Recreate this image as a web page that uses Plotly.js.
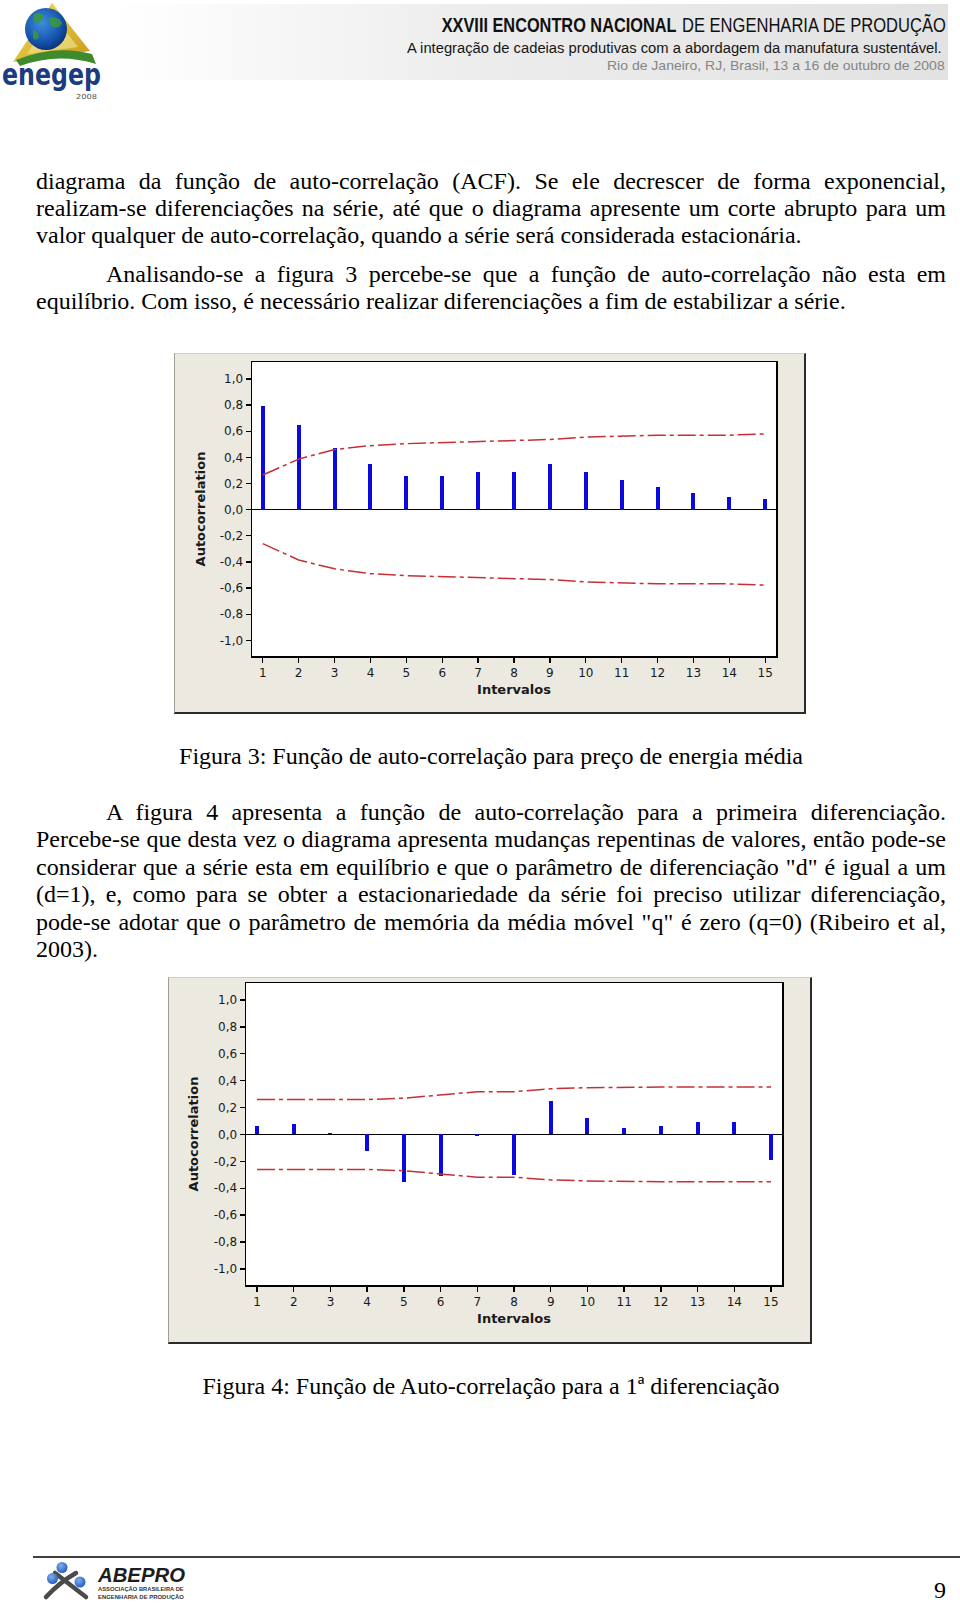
<!DOCTYPE html>
<html>
<head>
<meta charset="utf-8">
<script src="https://cdn.plot.ly/plotly-3.0.1.min.js"></script>
<style>
html,body{margin:0;padding:0;background:#fff;}
#page{position:relative;width:960px;height:1603px;overflow:hidden;background:#fff;}
.txt{position:absolute;left:36px;width:910px;font-family:"Liberation Serif","Times New Roman",serif;font-size:24px;line-height:27.4px;color:#000;}
.j{text-align:justify;text-align-last:justify;word-spacing:-2px;}
.l{text-align:left;}
.ind{text-indent:70px;}
.c{text-align:center;}
.chart{position:absolute;}
.frame{position:absolute;box-sizing:border-box;border-left:1px solid #a09d94;border-top:1px solid #cfccc3;border-right:2px solid #2b2b2b;border-bottom:2px solid #2b2b2b;pointer-events:none;}
svg text{white-space:pre;}
</style>
</head>
<body>
<div id="page">

<!-- header -->
<svg style="position:absolute;left:0;top:0" width="960" height="100" viewBox="0 0 960 100">
  <defs>
    <linearGradient id="hdr" x1="0" x2="1" y1="0" y2="0">
      <stop offset="0" stop-color="#ffffff"/>
      <stop offset="0.45" stop-color="#ececec"/>
      <stop offset="1" stop-color="#e2e2e2"/>
    </linearGradient>
    <radialGradient id="globe" cx="0.4" cy="0.35" r="0.7">
      <stop offset="0" stop-color="#3d8ee0"/>
      <stop offset="0.7" stop-color="#1450a8"/>
      <stop offset="1" stop-color="#0a2d6e"/>
    </radialGradient>
    <linearGradient id="tri" x1="0" x2="1" y1="0" y2="1">
      <stop offset="0" stop-color="#f4e060"/>
      <stop offset="1" stop-color="#c89a18"/>
    </linearGradient>
  </defs>
  <rect x="112" y="4" width="836" height="76" fill="url(#hdr)"/>
  <polygon points="52,3 13,62 90,51" fill="url(#tri)"/>
  <polygon points="52,14 27,54 78,47" fill="#f3e79a" opacity="0.6"/>
  <path d="M16,60 Q55,44 92,54 L96,64 Q58,52 20,66 Z" fill="#3f8a2c"/>
  <circle cx="46" cy="29" r="21" fill="url(#globe)"/>
  <path d="M34,14 q6,-3 10,2 q-2,6 -8,7 q-4,-3 -2,-9z M50,18 q8,-2 12,5 q-3,6 -9,4 q-5,-3 -3,-9z M33,30 q5,1 6,7 q-3,5 -6,1z" fill="#3b9a3a" opacity="0.85"/>
  <text class="fit" data-x="2" data-y="85" data-w="99" font-family="DejaVu Sans" font-weight="bold" font-size="30" fill="#1c3c82">enegep</text>
  <text class="fit" data-x="76" data-y="99" data-w="21" font-family="DejaVu Sans" font-size="7" fill="#555">2008</text>
  <text class="fit" data-x="441.7" data-y="32" data-w="235" font-family="Liberation Sans" font-weight="bold" font-size="19.5" fill="#111">XXVIII ENCONTRO NACIONAL</text>
  <text class="fit" data-x="682" data-y="32" data-w="264" font-family="Liberation Sans" font-size="19.5" fill="#111">DE ENGENHARIA DE PRODUÇÃO</text>
  <text class="fit" data-x="407" data-y="52.5" data-w="535" font-family="Liberation Sans" font-size="14" fill="#151515">A integração de cadeias produtivas com a abordagem da manufatura sustentável.</text>
  <text class="fit" data-x="607" data-y="70.3" data-w="338" font-family="Liberation Sans" font-size="12" fill="#858585">Rio de Janeiro, RJ, Brasil, 13 a 16 de outubro de 2008</text>
</svg>

<div class="txt" style="top:167.5px">
  <div class="j">diagrama da função de auto-correlação (ACF). Se ele decrescer de forma exponencial,</div>
  <div class="j">realizam-se diferenciações na série, até que o diagrama apresente um corte abrupto para um</div>
  <div class="l">valor qualquer de auto-correlação, quando a série será considerada estacionária.</div>
</div>
<div class="txt" style="top:261px">
  <div class="j ind">Analisando-se a figura 3 percebe-se que a função de auto-correlação não esta em</div>
  <div class="l">equilíbrio. Com isso, é necessário realizar diferenciações a fim de estabilizar a série.</div>
</div>

<div id="chart1" class="chart" style="left:174px;top:353px;width:632px;height:361px"></div>
<div class="frame" style="left:174px;top:353px;width:632px;height:361px"></div>

<div class="txt c" style="top:743px">Figura 3: Função de auto-correlação para preço de energia média</div>

<div class="txt" style="top:799px">
  <div class="j ind">A figura 4 apresenta a função de auto-correlação para a primeira diferenciação.</div>
  <div class="j">Percebe-se que desta vez o diagrama apresenta mudanças repentinas de valores, então pode-se</div>
  <div class="j">considerar que a série esta em equilíbrio e que o parâmetro de diferenciação "d" é igual a um</div>
  <div class="j">(d=1), e, como para se obter a estacionariedade da série foi preciso utilizar diferenciação,</div>
  <div class="j">pode-se adotar que o parâmetro de memória da média móvel "q" é zero (q=0) (Ribeiro et al,</div>
  <div class="l">2003).</div>
</div>

<div id="chart2" class="chart" style="left:168px;top:977px;width:644px;height:367px"></div>
<div class="frame" style="left:168px;top:977px;width:644px;height:367px"></div>

<div class="txt c" style="top:1373px">Figura 4: Função de Auto-correlação para a 1ª diferenciação</div>

<!-- footer -->
<svg style="position:absolute;left:0;top:1540px" width="960" height="63" viewBox="0 1540 960 63">
  <defs>
    <radialGradient id="ball" cx="0.4" cy="0.35" r="0.7">
      <stop offset="0" stop-color="#7fb0ee"/>
      <stop offset="1" stop-color="#1f58b8"/>
    </radialGradient>
  </defs>
  <line x1="33" y1="1557" x2="960" y2="1557" stroke="#000" stroke-width="1.5"/>
  <path d="M46,1597 Q60,1582 76,1573" stroke="#4a4a4a" stroke-width="4.5" fill="none" stroke-linecap="round"/>
  <path d="M55,1573 Q68,1583 86,1597" stroke="#4a4a4a" stroke-width="4.5" fill="none" stroke-linecap="round"/>
  <circle cx="62" cy="1567.5" r="5.5" fill="url(#ball)"/>
  <circle cx="52.5" cy="1578.5" r="5.5" fill="url(#ball)"/>
  <circle cx="80" cy="1582" r="5.5" fill="url(#ball)"/>
  <text class="fit" data-x="98" data-y="1582" data-w="87" font-family="Liberation Sans" font-weight="bold" font-style="italic" font-size="20" fill="#1e1e1e">ABEPRO</text>
  <text class="fit" data-x="98" data-y="1591" data-w="86" font-family="Liberation Sans" font-weight="bold" font-size="5.5" fill="#333">ASSOCIAÇÃO BRASILEIRA DE</text>
  <text class="fit" data-x="98" data-y="1598.5" data-w="86" font-family="Liberation Sans" font-weight="bold" font-size="5.5" fill="#333">ENGENHARIA DE PRODUÇÃO</text>
  <text x="946" y="1598" text-anchor="end" font-family="Liberation Serif" font-size="24" fill="#000">9</text>
</svg>

</div>

<script>
// ---- data ----
const lags = [1, 2, 3, 4, 5, 6, 7, 8, 9, 10, 11, 12, 13, 14, 15];
const lagLabels = ['1','2','3','4','5','6','7','8','9','10','11','12','13','14','15'];
const yTickValues = [1.0, 0.8, 0.6, 0.4, 0.2, 0.0, -0.2, -0.4, -0.6, -0.8, -1.0];
const yTickLabels = ['1,0','0,8','0,6','0,4','0,2','0,0','-0,2','-0,4','-0,6','-0,8','-1,0'];

// Figura 3: ACF of the average energy price series
const acfLevel   = [0.79, 0.65, 0.47, 0.35, 0.26, 0.26, 0.29, 0.29, 0.35, 0.29, 0.23, 0.17, 0.13, 0.10, 0.08];
const upperLevel = [0.265, 0.387, 0.46, 0.49, 0.505, 0.512, 0.52, 0.527, 0.537, 0.555, 0.565, 0.57, 0.57, 0.57, 0.58];
const lowerLevel = [-0.26, -0.385, -0.453, -0.49, -0.505, -0.512, -0.52, -0.527, -0.535, -0.553, -0.563, -0.568, -0.568, -0.568, -0.578];

// Figura 4: ACF of the first difference
const acfDiff    = [0.065, 0.075, 0.01, -0.12, -0.35, -0.31, -0.01, -0.30, 0.25, 0.12, 0.047, 0.065, 0.09, 0.09, -0.19];
const upperDiff  = [0.26, 0.26, 0.26, 0.26, 0.27, 0.293, 0.318, 0.318, 0.34, 0.348, 0.353, 0.353, 0.353, 0.353, 0.353];
const lowerDiff  = [-0.26, -0.26, -0.26, -0.26, -0.27, -0.293, -0.318, -0.318, -0.338, -0.346, -0.351, -0.351, -0.351, -0.351, -0.351];

const xTitle = 'Intervalos';
const yTitle = 'Autocorrelation';

// ---- condensed header/footer texts: scale horizontally to the target width ----
document.querySelectorAll('svg text.fit').forEach(function (el) {
  const x = parseFloat(el.getAttribute('data-x'));
  const y = parseFloat(el.getAttribute('data-y'));
  const w = parseFloat(el.getAttribute('data-w'));
  el.setAttribute('x', 0);
  el.setAttribute('y', 0);
  const natural = el.getComputedTextLength() || w;
  el.setAttribute('transform', 'translate(' + x + ',' + y + ') scale(' + (w / natural) + ',1)');
});

// ---- styles ----
const BAR_COLOR = '#0a0ae0';
const LIMIT_COLOR = '#c62f36';
const LIMIT_DASH = '18px,4px,4px,4px';
const TICK_FONT = {family: 'DejaVu Sans, Liberation Sans, Arial, sans-serif', size: 12, color: '#1a1a1a'};
const TITLE_FONT = {family: 'DejaVu Sans, Liberation Sans, Arial, sans-serif', size: 13, color: '#1a1a1a'};

function drawAcf(divId, acf, upper, lower, w, h, margin, yRange, yStandoff) {
  const traces = [
    {type: 'bar', x: lags, y: acf, width: 0.11, marker: {color: BAR_COLOR, line: {width: 0}}, hoverinfo: 'skip'},
    {type: 'scatter', mode: 'lines', x: lags, y: upper, line: {color: LIMIT_COLOR, width: 1.5, dash: LIMIT_DASH}, hoverinfo: 'skip'},
    {type: 'scatter', mode: 'lines', x: lags, y: lower, line: {color: LIMIT_COLOR, width: 1.5, dash: LIMIT_DASH}, hoverinfo: 'skip'}
  ];
  const axisCommon = {
    showgrid: false, showline: true, mirror: true, linecolor: '#000', linewidth: 1.5,
    ticks: 'outside', ticklen: 5, tickwidth: 1.3, tickcolor: '#000', tickfont: TICK_FONT,
    fixedrange: true
  };
  const layout = {
    width: w, height: h, margin: margin,
    paper_bgcolor: '#ece9e0', plot_bgcolor: '#ffffff',
    showlegend: false, bargap: 0,
    xaxis: Object.assign({}, axisCommon, {
      range: [0.7, 15.3], tickmode: 'array', tickvals: lags, ticktext: lagLabels, zeroline: false,
      title: {text: '<b>' + xTitle + '</b>', font: TITLE_FONT, standoff: 6}
    }),
    yaxis: Object.assign({}, axisCommon, {
      range: yRange, tickmode: 'array', tickvals: yTickValues, ticktext: yTickLabels,
      zeroline: true, zerolinecolor: '#000', zerolinewidth: 1.5,
      title: {text: '<b>' + yTitle + '</b>', font: TITLE_FONT, standoff: yStandoff}
    })
  };
  Plotly.newPlot(divId, traces, layout, {staticPlot: true, displayModeBar: false});
}

drawAcf('chart1', acfLevel, upperLevel, lowerLevel, 632, 361, {l: 78, r: 30, t: 9, b: 58, pad: 0}, [-1.12, 1.13], 11);
drawAcf('chart2', acfDiff, upperDiff, lowerDiff, 644, 367, {l: 78, r: 30, t: 6, b: 59, pad: 0}, [-1.12, 1.127], 12);
</script>
</body>
</html>
